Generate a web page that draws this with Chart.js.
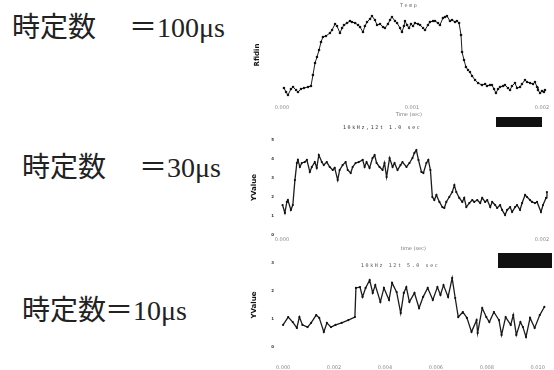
<!DOCTYPE html>
<html>
<head>
<meta charset="utf-8">
<script src="https://cdn.jsdelivr.net/npm/chart.js"></script>
<style>
  body { margin: 0; width: 554px; height: 370px; background: #fff; position: relative; overflow: hidden; }
  canvas { position: absolute; }
  .lbl { position: absolute; font-family: "Liberation Serif", "Noto Sans CJK JP"; font-size: 28px; line-height: 32px; color: #222; white-space: nowrap; }
  .cap { position: absolute; font-family: "DejaVu Sans Mono"; font-size: 5px; line-height: 6px; color: #666; letter-spacing: 1.6px; white-space: nowrap; }
  .blk { position: absolute; background: #111; }
</style>
</head>
<body>
<div class="lbl" style="left:12px;top:12px">時定数</div>
<div class="lbl" style="left:129px;top:12px">＝100μs</div>
<div class="lbl" style="left:22px;top:152px">時定数</div>
<div class="lbl" style="left:139px;top:152px">＝30μs</div>
<div class="lbl" style="left:22px;top:295px">時定数</div>
<div class="lbl" style="left:105px;top:295px">＝10μs</div>

<canvas id="c1" width="304" height="122" style="left:250px;top:0px"></canvas>
<canvas id="c2" width="304" height="136" style="left:250px;top:118px"></canvas>
<canvas id="c3" width="304" height="138" style="left:250px;top:232px"></canvas>

<div class="cap" style="left:400px;top:2px">Temp</div>
<div class="cap" style="left:343px;top:124px;color:#333">10kHz,12t 1.0 sec</div>
<div class="cap" style="left:361px;top:262px;color:#555">10kHz 12t 5.0 sec</div>
<div class="blk" style="left:496px;top:117px;width:46px;height:10px"></div>
<div class="blk" style="left:498px;top:253px;width:54px;height:15px"></div>

<script>
// time constant = 100us
const t1 = [0.015, 0.031, 0.046, 0.069, 0.085, 0.108, 0.123, 0.146, 0.169, 0.200, 0.223, 0.238, 0.254, 0.269, 0.285, 0.300, 0.315, 0.338, 0.369, 0.385,
  0.408, 0.423, 0.446, 0.462, 0.477, 0.500, 0.523, 0.538, 0.562, 0.585, 0.600, 0.623, 0.638, 0.654, 0.677, 0.692, 0.715, 0.731, 0.754, 0.777,
  0.792, 0.815, 0.831, 0.846, 0.869, 0.885, 0.908, 0.923, 0.938, 0.946, 0.962, 0.977, 0.992, 1.008, 1.023, 1.046, 1.062, 1.085, 1.100, 1.123,
  1.138, 1.162, 1.177, 1.200, 1.215, 1.238, 1.254, 1.269, 1.292, 1.308, 1.331, 1.346, 1.362, 1.377, 1.385, 1.400, 1.415, 1.431, 1.446, 1.462,
  1.485, 1.508, 1.538, 1.562, 1.577, 1.600, 1.615, 1.631, 1.646, 1.662, 1.677, 1.700, 1.715, 1.738, 1.754, 1.769, 1.792, 1.808, 1.831, 1.846,
  1.869, 1.885, 1.908, 1.931, 1.946, 1.962, 1.969, 1.985, 2.000, 2.015, 2.023]
const v1 = [12, 8, 5, 11, 13, 10, 8, 11, 12, 13, 14, 25, 37, 43, 50, 58, 63, 64, 67, 70,
  76, 74, 67, 72, 75, 77, 79, 78, 77, 75, 73, 68, 74, 78, 81, 84, 80, 75, 76, 73,
  72, 76, 80, 83, 79, 77, 72, 68, 74, 79, 75, 72, 76, 74, 77, 76, 75, 72, 70, 75,
  78, 79, 79, 77, 75, 82, 83, 84, 79, 80, 78, 79, 77, 65, 48, 40, 33, 30, 28, 24,
  20, 17, 15, 16, 14, 15, 15, 11, 7, 11, 13, 14, 15, 12, 10, 14, 17, 12, 13, 16,
  20, 18, 17, 16, 18, 13, 10, 7, 9, 8, 10]

// time constant = 30us
const t2 = [0.005, 0.023, 0.038, 0.046, 0.069, 0.084, 0.100, 0.115, 0.123, 0.138, 0.153, 0.176, 0.192, 0.215, 0.230, 0.253, 0.268, 0.284, 0.307, 0.322,
  0.345, 0.368, 0.391, 0.406, 0.429, 0.444, 0.467, 0.490, 0.506, 0.529, 0.544, 0.567, 0.590, 0.621, 0.636, 0.651, 0.674, 0.697, 0.713, 0.728,
  0.751, 0.774, 0.789, 0.805, 0.828, 0.851, 0.866, 0.889, 0.912, 0.927, 0.958, 0.981, 1.004, 1.019, 1.034, 1.050, 1.073, 1.088, 1.111, 1.126,
  1.142, 1.157, 1.172, 1.188, 1.211, 1.234, 1.249, 1.264, 1.287, 1.310, 1.326, 1.341, 1.364, 1.387, 1.402, 1.418, 1.441, 1.464, 1.479, 1.502,
  1.525, 1.540, 1.563, 1.579, 1.602, 1.617, 1.640, 1.655, 1.678, 1.693, 1.716, 1.732, 1.755, 1.770, 1.793, 1.808, 1.831, 1.847, 1.870, 1.885,
  1.908, 1.923, 1.946, 1.962, 1.992, 2.008, 2.031, 2.038]
const v2 = [1.58, 1.16, 1.74, 1.84, 1.32, 1.58, 2.89, 3.79, 3.95, 3.58, 3.79, 3.84, 3.95, 3.32, 3.58, 3.84, 3.53, 4.21, 3.84, 3.68,
  3.84, 3.58, 3.42, 3.53, 2.89, 3.42, 3.68, 3.84, 3.42, 3.26, 3.58, 3.79, 3.84, 3.95, 3.58, 3.84, 3.53, 4.05, 4.21, 3.79,
  3.58, 3.42, 3.79, 3.05, 4.05, 3.58, 3.79, 3.42, 3.68, 3.84, 3.58, 3.79, 4.05, 4.32, 4.47, 3.95, 3.32, 3.26, 3.79, 3.95,
  3.42, 2.00, 1.84, 2.11, 1.74, 1.47, 1.42, 1.74, 2.00, 2.26, 2.63, 2.26, 1.95, 1.74, 1.95, 1.47, 1.68, 1.84, 1.74, 1.84,
  1.68, 1.95, 1.74, 1.84, 1.47, 1.74, 1.58, 1.42, 1.58, 1.32, 1.05, 1.32, 1.47, 1.21, 1.47, 1.58, 1.32, 1.68, 2.11, 2.00,
  1.84, 1.74, 1.68, 1.74, 1.21, 1.58, 1.95, 2.26]

// time constant = 10us
const t3 = [0.00, 0.10, 0.19, 0.27, 0.32, 0.38, 0.48, 0.55, 0.65, 0.71, 0.80, 0.86, 0.94, 1.03, 1.15, 1.28, 1.41, 1.43, 1.51, 1.56,
  1.62, 1.70, 1.76, 1.81, 1.91, 1.98, 2.08, 2.14, 2.23, 2.31, 2.37, 2.42, 2.48, 2.58, 2.67, 2.75, 2.84, 2.94, 3.03, 3.09,
  3.15, 3.24, 3.32, 3.38, 3.44, 3.53, 3.61, 3.70, 3.80, 3.82, 3.91, 3.99, 4.05, 4.14, 4.24, 4.29, 4.37, 4.47, 4.52, 4.58,
  4.66, 4.71, 4.77, 4.85, 4.94, 5.04, 5.13]
const v3 = [0.79, 1.07, 0.89, 0.68, 1.07, 0.79, 0.71, 0.86, 1.14, 1.04, 0.54, 0.86, 0.71, 0.79, 0.86, 0.96, 1.07, 2.11, 2.14, 1.79,
  2.11, 2.39, 1.93, 2.21, 1.61, 2.11, 1.68, 2.29, 1.96, 1.21, 1.93, 2.14, 1.61, 1.93, 1.39, 1.79, 2.11, 1.68, 2.14, 1.86,
  2.21, 1.79, 2.46, 1.75, 1.07, 1.25, 1.04, 0.54, 0.96, 0.50, 1.39, 1.07, 0.89, 1.25, 0.96, 0.43, 1.07, 0.79, 1.14, 0.43,
  0.89, 0.71, 0.36, 1.04, 0.68, 1.14, 1.43]

// tick positions and labels
const xTicks1 = [0, 1, 2]
const xLabels1 = ['0.000', '0.001', '0.002']
const xTicks2 = [0, 2]
const xLabels2 = ['0.000', '0.002']
const yTicks2 = [0, 1, 2, 3, 4, 5]
const yLabels2 = ['0', '1', '2', '3', '4', '5']
const xTicks3 = [0, 1, 2, 3, 4, 5]
const xLabels3 = ['0.000', '0.002', '0.004', '0.006', '0.008', '0.010']
const yTicks3 = [0, 1, 2, 3]
const yLabels3 = ['0', '1', '2', '3']

Chart.defaults.font.family = 'DejaVu Sans'

function scopeChart(id, o) {
  const ctx = document.getElementById(id).getContext('2d')
  return new Chart(ctx, {
    type: 'line',
    data: {
      datasets: [{
        data: o.t.map((t, i) => ({ x: t, y: o.v[i] })),
        borderColor: '#1c1c1c',
        borderWidth: o.lw,
        pointRadius: o.pr,
        pointBackgroundColor: '#111',
        pointBorderWidth: 0,
        tension: 0
      }]
    },
    options: {
      responsive: false,
      animation: false,
      layout: { padding: { top: o.padTop, right: o.padRight, left: 0, bottom: 0 } },
      plugins: { legend: { display: false }, tooltip: { enabled: false } },
      scales: {
        x: {
          type: 'linear',
          min: o.xMin,
          max: o.xMax,
          afterBuildTicks: (s) => { s.ticks = o.xTicks.map((value) => ({ value })) },
          afterFit: (s) => { s.height = o.xHeight },
          grid: { display: false, drawTicks: false },
          border: { display: false },
          ticks: {
            padding: o.xTickPad,
            color: '#888',
            maxRotation: 0,
            autoSkip: false,
            font: { size: 5 },
            callback: (val, i) => o.xLabels[i]
          },
          title: {
            display: !!o.xTitle,
            text: o.xTitle,
            color: '#777',
            font: { size: 5 },
            padding: { top: 0, bottom: o.xTitlePad }
          }
        },
        y: {
          min: o.yMin,
          max: o.yMax,
          afterBuildTicks: (s) => { s.ticks = o.yTicks.map((value) => ({ value })) },
          afterFit: (s) => { s.width = o.yWidth },
          grid: { display: false, drawTicks: false },
          border: { display: false },
          ticks: {
            display: o.yLabels.length > 0,
            padding: 4,
            color: '#333',
            font: { size: 4, weight: 'bold' },
            callback: (val, i) => o.yLabels[i]
          },
          title: {
            display: true,
            text: o.yTitle,
            color: '#111',
            font: { size: 7, weight: 'bold' },
            padding: { top: o.yTitlePad, bottom: 0 }
          }
        }
      }
    }
  })
}

scopeChart('c1', {
  t: t1, v: v1, lw: 1, pr: 1.3,
  xMin: -0.1, xMax: 2.05, yMin: 0, yMax: 90,
  xTicks: xTicks1, xLabels: xLabels1, yTicks: [], yLabels: [],
  padTop: 10, padRight: 5.5, yWidth: 19, xHeight: 22,
  xTickPad: 4.5, xTitle: 'Time (sec)', xTitlePad: 4,
  yTitle: 'Rfidin', yTitlePad: 3
})

scopeChart('c2', {
  t: t2, v: v2, lw: 1.3, pr: 1.1,
  xMin: -0.03, xMax: 2.05, yMin: 0, yMax: 5,
  xTicks: xTicks2, xLabels: xLabels2, yTicks: yTicks2, yLabels: yLabels2,
  padTop: 22, padRight: 5.5, yWidth: 28, xHeight: 19,
  xTickPad: 1.5, xTitle: 'time (sec)', xTitlePad: 2,
  yTitle: 'YValue', yTitlePad: 0
})

scopeChart('c3', {
  t: t3, v: v3, lw: 1.3, pr: 1.1,
  xMin: -0.1, xMax: 5.17, yMin: -0.3, yMax: 3.3,
  xTicks: xTicks3, xLabels: xLabels3, yTicks: yTicks3, yLabels: yLabels3,
  padTop: 22.6, padRight: 0, yWidth: 28, xHeight: 14.6,
  xTickPad: 9, xTitle: '', xTitlePad: 0,
  yTitle: 'YValue', yTitlePad: 0
})
</script>
</body>
</html>
